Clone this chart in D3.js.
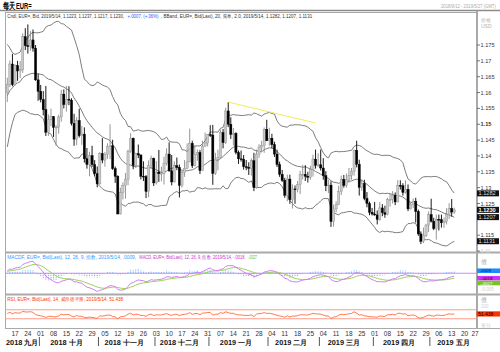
<!DOCTYPE html>
<html><head><meta charset="utf-8">
<script src="https://cdn.jsdelivr.net/npm/d3@7"></script>
<style>body{margin:0;background:#fff}svg{display:block}text{font-family:"Liberation Sans",Arial,sans-serif}</style>
</head><body><svg id="c" width="500" height="352"></svg>
<script>
// ---------- DATA ----------
const firstDate = new Date(2018, 8, 12);
const axisEndDate = new Date(2019, 4, 27);
// closes before the first bar (Jul 2 - Sep 11 2018), used only to warm up the indicators
const priorClose = [1.1632,1.1656,1.1655,1.1687,1.1746,1.1750,1.1743,1.1675,1.1668,1.1685,1.1711,1.1659,1.1640,1.1643,1.1719,1.1692,1.1686,1.1728,1.1640,1.1657,1.1705,1.1691,1.1658,1.1583,1.1566,1.1552,1.1601,1.1610,1.1526,1.1410,1.1405,1.1344,1.1346,1.1377,1.1438,1.1479,1.1570,1.1595,1.1539,1.1624,1.1678,1.1698,1.1706,1.1669,1.1602,1.1620,1.1583,1.1630,1.1625,1.1551,1.1595,1.1601];
const open = [1.1600,1.1625,1.1690,1.1625,1.1685,1.1668,1.1672,1.1776,1.1748,1.1746,1.1766,1.1740,1.1640,
1.1604,1.1578,1.1546,1.1475,1.1514,1.1524,1.1490,1.1491,1.1523,1.1595,1.1562,1.1579,1.1576,1.1503,1.1453,1.1512,1.1464,1.1469,1.1391,1.1373,1.1401,1.1373,1.1344,
1.1312,1.1407,1.1387,1.1405,1.1430,1.1432,1.1360,1.1336,1.1217,1.1285,1.1306,1.1327,1.1415,1.1456,1.1370,1.1407,1.1403,1.1336,1.1335,1.1288,1.1369,1.1392,
1.1315,1.1349,1.1344,1.1345,1.1377,1.1406,1.1353,1.1318,1.1369,1.1364,1.1307,1.1347,1.1361,1.1381,1.1440,1.1369,1.1404,1.1411,1.1354,1.1431,1.1441,
1.1467,1.1466,1.1345,1.1390,1.1396,1.1474,1.1442,1.1542,1.1500,1.1468,1.1471,1.1411,1.1391,1.1390,1.1366,1.1364,1.1361,1.1385,1.1300,1.1406,1.1428,1.1433,1.1484,
1.1448,1.1456,1.1436,1.1406,1.1373,1.1342,1.1323,1.1276,1.1327,1.1262,1.1296,1.1294,1.1310,1.1341,1.1342,1.1336,1.1333,1.1357,1.1390,1.1370,
1.1372,1.1362,1.1338,1.1306,1.1308,1.1193,1.1233,1.1246,1.1287,1.1326,1.1307,1.1325,1.1338,1.1352,1.1418,1.1374,1.1301,1.1313,1.1266,1.1250,1.1222,
1.1217,1.1214,1.1200,1.1236,1.1221,1.1216,1.1262,1.1263,1.1276,1.1255,1.1307,1.1306,1.1285,1.1295,1.1233,1.1246,1.1257,1.1225,1.1154,1.1131,1.1150,1.1182,
1.1215,1.1194,1.1171,1.1200,1.1199,1.1189,1.1193,1.1215,1.1234,1.1223];
const high = [1.1647,1.1701,1.1722,1.1689,1.1700,1.1699,1.1787,1.1803,1.1815,1.1794,1.1799,1.1750,1.1659,
1.1624,1.1605,1.1621,1.1531,1.1549,1.1526,1.1497,1.1530,1.1609,1.1610,1.1621,1.1620,1.1582,1.1533,1.1522,1.1549,1.1495,1.1490,1.1425,1.1413,1.1432,1.1387,1.1367,
1.1412,1.1456,1.1412,1.1440,1.1500,1.1451,1.1367,1.1339,1.1300,1.1317,1.1346,1.1420,1.1472,1.1458,1.1410,1.1436,1.1405,1.1383,1.1340,1.1386,1.1401,1.1395,
1.1384,1.1419,1.1366,1.1398,1.1424,1.1443,1.1403,1.1383,1.1395,1.1373,1.1353,1.1387,1.1439,1.1486,1.1448,1.1434,1.1420,1.1419,1.1448,1.1474,1.1469,
1.1497,1.1498,1.1410,1.1420,1.1483,1.1485,1.1552,1.1570,1.1522,1.1488,1.1475,1.1417,1.1417,1.1403,1.1387,1.1380,1.1392,1.1410,1.1420,1.1437,1.1448,1.1490,1.1514,
1.1489,1.1470,1.1445,1.1420,1.1382,1.1356,1.1331,1.1341,1.1341,1.1310,1.1307,1.1321,1.1353,1.1372,1.1371,1.1350,1.1369,1.1404,1.1420,1.1408,
1.1420,1.1393,1.1352,1.1325,1.1320,1.1246,1.1257,1.1306,1.1338,1.1340,1.1345,1.1362,1.1362,1.1420,1.1448,1.1388,1.1326,1.1325,1.1286,1.1256,1.1236,
1.1255,1.1228,1.1255,1.1248,1.1243,1.1268,1.1280,1.1289,1.1285,1.1324,1.1323,1.1314,1.1323,1.1310,1.1253,1.1266,1.1268,1.1231,1.1162,1.1174,1.1186,1.1225,
1.1265,1.1205,1.1215,1.1215,1.1215,1.1206,1.1235,1.1251,1.1264,1.1237];
const low = [1.1570,1.1617,1.1620,1.1622,1.1637,1.1646,1.1662,1.1734,1.1723,1.1732,1.1729,1.1637,1.1574,
1.1569,1.1528,1.1463,1.1463,1.1494,1.1460,1.1432,1.1470,1.1508,1.1550,1.1540,1.1560,1.1496,1.1432,1.1434,1.1458,1.1435,1.1379,1.1360,1.1336,1.1365,1.1336,1.1301,
1.1309,1.1377,1.1366,1.1391,1.1390,1.1356,1.1315,1.1216,1.1215,1.1263,1.1265,1.1308,1.1410,1.1358,1.1362,1.1393,1.1326,1.1321,1.1267,1.1270,1.1359,1.1305,
1.1310,1.1318,1.1320,1.1310,1.1370,1.1350,1.1307,1.1316,1.1355,1.1269,1.1300,1.1334,1.1358,1.1380,1.1362,1.1367,1.1385,1.1343,1.1353,1.1429,1.1430,
1.1460,1.1309,1.1340,1.1355,1.1394,1.1424,1.1438,1.1491,1.1454,1.1433,1.1405,1.1375,1.1382,1.1357,1.1355,1.1340,1.1338,1.1289,1.1297,1.1394,1.1414,1.1410,1.1447,
1.1432,1.1425,1.1397,1.1365,1.1334,1.1318,1.1268,1.1257,1.1249,1.1234,1.1249,1.1285,1.1280,1.1326,1.1321,1.1316,1.1325,1.1335,1.1360,1.1365,
1.1354,1.1325,1.1289,1.1283,1.1176,1.1177,1.1222,1.1245,1.1277,1.1300,1.1300,1.1315,1.1325,1.1338,1.1364,1.1275,1.1290,1.1260,1.1238,1.1213,1.1212,
1.1211,1.1184,1.1196,1.1210,1.1205,1.1213,1.1240,1.1250,1.1245,1.1254,1.1294,1.1275,1.1281,1.1226,1.1231,1.1236,1.1190,1.1148,1.1122,1.1125,1.1144,1.1160,
1.1190,1.1166,1.1136,1.1165,1.1174,1.1173,1.1184,1.1201,1.1209,1.1217];
const close = [1.1625,1.1690,1.1625,1.1685,1.1668,1.1672,1.1776,1.1748,1.1746,1.1766,1.1740,1.1640,1.1604,
1.1578,1.1546,1.1475,1.1514,1.1524,1.1490,1.1491,1.1523,1.1595,1.1562,1.1579,1.1576,1.1503,1.1453,1.1512,1.1464,1.1469,1.1391,1.1373,1.1401,1.1373,1.1344,1.1312,
1.1407,1.1387,1.1405,1.1430,1.1432,1.1360,1.1336,1.1217,1.1285,1.1306,1.1327,1.1415,1.1456,1.1370,1.1407,1.1403,1.1336,1.1335,1.1288,1.1369,1.1392,1.1315,
1.1349,1.1344,1.1345,1.1377,1.1406,1.1353,1.1318,1.1369,1.1364,1.1307,1.1347,1.1361,1.1381,1.1440,1.1369,1.1404,1.1411,1.1354,1.1431,1.1441,1.1467,
1.1466,1.1345,1.1390,1.1396,1.1474,1.1442,1.1542,1.1500,1.1468,1.1471,1.1411,1.1391,1.1390,1.1366,1.1364,1.1361,1.1385,1.1300,1.1406,1.1428,1.1433,1.1484,1.1448,
1.1456,1.1436,1.1406,1.1373,1.1342,1.1323,1.1276,1.1327,1.1262,1.1296,1.1294,1.1310,1.1341,1.1342,1.1336,1.1333,1.1357,1.1390,1.1370,1.1372,
1.1362,1.1338,1.1306,1.1308,1.1193,1.1233,1.1246,1.1287,1.1326,1.1307,1.1325,1.1338,1.1352,1.1418,1.1374,1.1301,1.1313,1.1266,1.1250,1.1222,1.1217,
1.1214,1.1200,1.1236,1.1221,1.1216,1.1262,1.1263,1.1276,1.1255,1.1307,1.1306,1.1285,1.1295,1.1233,1.1246,1.1257,1.1225,1.1154,1.1131,1.1150,1.1182,1.1215,
1.1194,1.1171,1.1200,1.1199,1.1189,1.1193,1.1215,1.1234,1.1223,1.1230];
const priceTicks = [1.175,1.17,1.165,1.16,1.155,1.15,1.145,1.14,1.135,1.13,1.125,1.12,1.115,1.11];
const priceTickLabels = ["1.175","1.17","1.165","1.16","1.155","1.15","1.145","1.14","1.135","1.13","1.125","1.12","1.115","1.11"];
const dayTickLabels = ["17","24","01","08","15","22","29","05","12","19","26","03","10","17","24","31","07","14","21","28","04","11","18","25","04","11","18","25","01","08","15","22","29","06","13","20","27"];
const monthLabels = ["2018 九月","2018 十月","2018 十一月","2018 十二月","2019 一月","2019 二月","2019 三月","2019 四月","2019 五月"];
const mainValueTags = [["1.1282",1.1282,false],["1.1230",1.1230,true],["1.1207",1.1207,false],["1.1131",1.1131,false]];
const macdTags = [[".0009",0.0009,"#1a8cff","#002244"],["-.0018",-0.0018,"#cc33ff","#220033"],["-.0027",-0.0027,"#77c522","#ffffff"]];
const rsiTag = ["51.438",51.438];
const trendLine = [[new Date(2019,0,10),1.1570],[new Date(2019,1,27),1.1504]];

// ---------- SETUP ----------
const svg = d3.select("#c");
const weekdays = d3.timeDay.range(firstDate, d3.timeDay.offset(axisEndDate,1)).filter(d=>d.getDay()!==0&&d.getDay()!==6);
const idxOf = d => weekdays.findIndex(w=>+w===+d3.timeDay.floor(d));
const x = d3.scaleLinear().domain([0, weekdays.length-1]).range([7.3, 477.4]);
const y = d3.scaleLinear().domain([1.11, 1.175]).range([251.05, 45]);

// frames
const frame = "#a9a9a9";
svg.append("line").attr("x1",0).attr("x2",500).attr("y1",10.5).attr("y2",10.5).attr("stroke","#8c8c8c").attr("stroke-width",1.5);
svg.append("rect").attr("x",5.5).attr("y",12.5).attr("width",471).attr("height",316).attr("fill","none").attr("stroke",frame);
[252.5,294.5].forEach(v=>svg.append("line").attr("x1",5).attr("x2",500).attr("y1",v).attr("y2",v).attr("stroke",frame).attr("stroke-width",2));
svg.append("line").attr("x1",5).attr("x2",500).attr("y1",328.5).attr("y2",328.5).attr("stroke",frame).attr("stroke-width",1);
svg.append("line").attr("x1",477).attr("x2",477).attr("y1",11).attr("y2",329).attr("stroke",frame).attr("stroke-width",2);

// fitted text: drawn at natural size, then squeezed horizontally to the width it has in the reference
function seg(xp, yp, len, col, txt, fs, bold){
  const t = svg.append("text").attr("x",0).attr("y",0).attr("font-size",fs||5.3).attr("fill",col).text(txt);
  if(bold) t.attr("font-weight","bold");
  const w = t.node().getComputedTextLength();
  t.attr("transform",`translate(${xp},${yp}) scale(${len/w},1)`);
  return t;
}
seg(3,8.5,30,"#000","每天 EUR=",8.5,true);
seg(441,7.8,55,"#aaa","2018/9/12 - 2019/5/27 (GMT)",5);
seg(7.3,17.5,117,"#333","Cndl, EUR=, Bid, 2019/5/14, 1.1223, 1.1237, 1.1217, 1.1230,");
seg(127.5,17.5,31,"#3355ff","+.0007, (+.06%)");
seg(161,17.5,151,"#333",", BBand, EUR=, Bid(Last), 20, 简单, 2.0, 2019/5/14, 1.1282, 1.1207, 1.1131");
seg(7.3,259,128.5,"#3399ff","MACDF, EUR=, Bid(Last), 12, 26, 9, 指数, 2019/5/14, .0009,");
seg(139.3,259,105.5,"#cc33cc","MACD, EUR=, Bid(Last), 12, 26, 9, 指数, 2019/5/14, -.0018,");
seg(247.5,259,9.5,"#66bb22","-.0027");
seg(7.3,300.5,114.5,"#ff3300","RSI, EUR=, Bid(Last), 14, 威尔德平滑, 2019/5/14, 51.438");
svg.append("text").attr("x",481).attr("y",22).attr("font-size",5).attr("fill","#b0b0b0").text("价格");
svg.append("text").attr("x",481).attr("y",28).attr("font-size",5).attr("fill","#b0b0b0").text("USD");

// ---------- INDICATORS ----------
const P = priorClose.length;
const allClose = priorClose.concat(close);
const bars = close.map((c,i)=>({i,o:open[i],h:high[i],l:low[i],c}));
const bb = close.map((c,i)=>{const w=allClose.slice(P+i-19,P+i+1);const m=d3.mean(w);const sd=Math.sqrt(d3.mean(w,v=>(v-m)*(v-m)));return {i,m,u:m+2*sd,l:m-2*sd};});
function ema(arr,n){const k=2/(n+1);const out=[];arr.forEach((v,i)=>out.push(i?v*k+out[i-1]*(1-k):v));return out;}
const e12=ema(allClose,12), e26=ema(allClose,26);
const macdAll=e12.map((v,i)=>v-e26[i]);
const sigAll=ema(macdAll,9);
const macd = close.map((c,i)=>({i,m:macdAll[P+i],s:sigAll[P+i],h:macdAll[P+i]-sigAll[P+i]}));
const rsiAll=[];let ag=0,al=0;
for(let k=1;k<allClose.length;k++){const ch=allClose[k]-allClose[k-1];const gn=Math.max(ch,0),ls=Math.max(-ch,0);
  if(k<=14){ag+=gn/14;al+=ls/14;}else{ag=(ag*13+gn)/14;al=(al*13+ls)/14;}
  rsiAll[k]=k>=14?100-100/(1+ag/al):null;}
const rsi = close.map((c,i)=>({i,r:rsiAll[P+i]}));

// ---------- MAIN PANEL ----------
svg.append("clipPath").attr("id","cm").append("rect").attr("x",5).attr("y",12).attr("width",471.5).attr("height",240);
const gm = svg.append("g").attr("clip-path","url(#cm)");
const bandLine = key=>d3.line().x(d=>x(d.i)).y(d=>y(d[key]));
["u","m","l"].forEach(k=>gm.append("path").datum(bb).attr("d",bandLine(k)).attr("fill","none").attr("stroke","#6e6e6e").attr("stroke-width",0.9));
const cg = gm.selectAll("g.c").data(bars).join("g");
cg.append("line").attr("x1",d=>x(d.i)).attr("x2",d=>x(d.i)).attr("y1",d=>y(d.h)).attr("y2",d=>y(d.l))
  .attr("stroke",d=>d.c>=d.o?"#8a8a8a":"#000").attr("stroke-width",0.9);
cg.append("rect").attr("x",d=>x(d.i)-1.1).attr("width",2.2)
  .attr("y",d=>y(Math.max(d.o,d.c))).attr("height",d=>Math.max(0.8,Math.abs(y(d.o)-y(d.c))))
  .attr("fill",d=>d.c>=d.o?"#c9c9c9":"#000").attr("stroke",d=>d.c>=d.o?"#8a8a8a":"#000").attr("stroke-width",0.4);
gm.append("line").attr("x1",x(idxOf(trendLine[0][0]))).attr("y1",y(trendLine[0][1])).attr("x2",x(idxOf(trendLine[1][0]))).attr("y2",y(trendLine[1][1])).attr("stroke","#f5ec5a").attr("stroke-width",1);

// price axis (labels hidden behind a value tag are not drawn, as in the reference)
priceTicks.forEach((t,k)=>{
  const yy=y(t);
  svg.append("line").attr("x1",477).attr("x2",480).attr("y1",yy).attr("y2",yy).attr("stroke","#555").attr("stroke-width",0.8);
  const covered = mainValueTags.some(m=>Math.abs(y(m[1])-yy)<4.5);
  if(!covered) svg.append("text").attr("x",480.5).attr("y",yy+2).attr("font-size",5.6).attr("fill",t===1.11?"#c8c8c8":"#333").attr("font-weight",t===1.15?"bold":"normal").text(priceTickLabels[k]);
});
mainValueTags.forEach(([lab,v,cur])=>{
  const yy=y(v);
  svg.append("rect").attr("x",477).attr("y",yy-3).attr("width",22).attr("height",6).attr("fill","#111");
  svg.append("text").attr("x",478.5).attr("y",yy+2).attr("font-size",5.6).attr("fill",cur?"#fff":"#ddd").attr("font-weight",cur?"bold":"normal").text(lab);
});

// ---------- MACD PANEL ----------
const ext = d3.extent(macd.flatMap(d=>[d.m,d.s,d.h]));
const ym = d3.scaleLinear().domain(ext).range([291.5,261.5]);
svg.append("line").attr("x1",5).attr("x2",476).attr("y1",ym(0)).attr("y2",ym(0)).attr("stroke","#cc88ff").attr("stroke-width",1);
svg.append("g").selectAll("line").data(macd).join("line").attr("x1",d=>x(d.i)).attr("x2",d=>x(d.i)).attr("y1",ym(0)).attr("y2",d=>ym(d.h))
  .attr("stroke","#5aaaf0").attr("stroke-width",0.9).attr("stroke-dasharray","1,0.8");
svg.append("path").datum(macd).attr("d",d3.line().x(d=>x(d.i)).y(d=>ym(d.s))).attr("fill","none").attr("stroke","#9ad454").attr("stroke-width",1);
svg.append("path").datum(macd).attr("d",d3.line().x(d=>x(d.i)).y(d=>ym(d.m))).attr("fill","none").attr("stroke","#d47cf5").attr("stroke-width",1);
svg.append("text").attr("x",481).attr("y",264).attr("font-size",5.5).attr("fill","#aaa").text("值");
svg.append("text").attr("x",481).attr("y",291).attr("font-size",4.5).attr("fill","#d0d0d0").text("-0.005");
let tagY = macdTags.map(t=>ym(t[1]));
for(let k=1;k<tagY.length;k++){ if(tagY[k]-tagY[k-1]<4.8) tagY[k]=tagY[k-1]+4.8; }
macdTags.forEach((t,k)=>{
  svg.append("rect").attr("x",477).attr("y",tagY[k]-2.3).attr("width",23).attr("height",4.6).attr("fill",t[2]);
  svg.append("text").attr("x",480).attr("y",tagY[k]+1.6).attr("font-size",4.4).attr("fill",t[3]).text(t[0]);
});

// ---------- RSI PANEL ----------
const yr = d3.scaleLinear().domain([0,100]).range([325.5,303]);
[70,30].forEach(v=>svg.append("line").attr("x1",5).attr("x2",476).attr("y1",yr(v)).attr("y2",yr(v)).attr("stroke","#ff9c88").attr("stroke-width",1));
svg.append("path").datum(rsi).attr("d",d3.line().x(d=>x(d.i)).y(d=>yr(d.r))).attr("fill","none").attr("stroke","#ff6a3d").attr("stroke-width",0.9);
svg.append("text").attr("x",481).attr("y",302).attr("font-size",5.5).attr("fill","#aaa").text("值");
svg.append("text").attr("x",481).attr("y",307.5).attr("font-size",4.5).attr("fill","#d0d0d0").text("100");
svg.append("text").attr("x",481).attr("y",327).attr("font-size",5).attr("fill","#c8c8c8").text("百分");
svg.append("rect").attr("x",476.5).attr("y",yr(rsiTag[1])-2.6).attr("width",23.5).attr("height",5.2).attr("fill","#ff3300");
svg.append("text").attr("x",478).attr("y",yr(rsiTag[1])+1.8).attr("font-size",5).attr("fill","#220000").text(rsiTag[0]);

// ---------- DATE AXIS ----------
const mondays = d3.timeMonday.range(d3.timeDay.offset(firstDate,1), d3.timeDay.offset(axisEndDate,1));
mondays.forEach((m,k)=>{
  svg.append("text").attr("x",Math.min(x(idxOf(m)),475)).attr("y",335.5).attr("text-anchor","middle").attr("font-size",6.5).attr("fill","#333").text(dayTickLabels[k]);
});
const monthStarts = d3.timeMonth.range(d3.timeMonth.ceil(firstDate), axisEndDate).map(m=>weekdays.findIndex(w=>w>=m));
const seps = monthStarts.map(i=>x(i)-1.3);
const bounds = [5].concat(seps).concat([477]);
seps.forEach(s=>svg.append("line").attr("x1",s).attr("x2",s).attr("y1",337).attr("y2",346).attr("stroke","#444").attr("stroke-width",0.9));
monthLabels.forEach((lab,k)=>{
  const cx=(bounds[k]+bounds[k+1])/2-(k===0||k===monthLabels.length-1?0:2.5);
  svg.append("text").attr("x",cx).attr("y",344.5).attr("text-anchor","middle").attr("font-size",7.3).attr("font-weight","bold")
    .attr("font-family","'Liberation Serif','Noto Sans CJK SC',serif").attr("fill","#111").text(lab);
});
</script></body></html>
